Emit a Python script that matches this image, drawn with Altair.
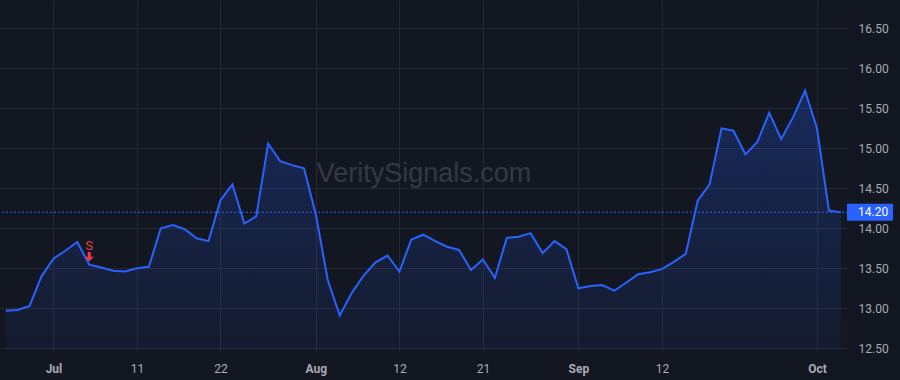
import altair as alt
import pandas as pd

# ---- data (trading-day index 0 = 2024-06-25 ... 70 = 2024-10-03) ----
values = [
    12.97, 12.98, 13.03, 13.40, 13.62, 13.72, 13.83, 13.545, 13.51, 13.47,
    13.46, 13.50, 13.52, 14.00, 14.04, 13.99, 13.875, 13.84, 14.35, 14.55,
    14.06, 14.15, 15.06, 14.84, 14.79, 14.75, 14.17, 13.35, 12.91, 13.19,
    13.41, 13.575, 13.66, 13.46, 13.86, 13.92, 13.84, 13.77, 13.73, 13.48,
    13.61, 13.38, 13.88, 13.895, 13.94, 13.69, 13.84, 13.74, 13.25, 13.28,
    13.29, 13.22, 13.32, 13.425, 13.45, 13.49, 13.58, 13.68, 14.345, 14.55,
    15.25, 15.22, 14.925, 15.08, 15.445, 15.115, 15.39, 15.72, 15.25, 14.22,
    14.20,
]
tick_index = [4, 11, 18, 26, 33, 40, 48, 55, 68]
tick_labels = ["Jul", "11", "22", "Aug", "12", "21", "Sep", "12", "Oct"]
month_ticks = [4, 26, 48, 68]
y_ticks = [12.5, 13.0, 13.5, 14.0, 14.5, 15.0, 15.5, 16.0, 16.5]
signal_index = [7]
signal_label = ["S"]
last_price = 14.20
watermark = "VeritySignals.com"

BG = "#131722"
GRID = "#252935"
LABEL = "#a8abb4"
BLUE = "#2962ff"
RED = "#f23645"
W, H = 848, 350
Y_MIN, Y_MAX = 12.479, 16.854

df = pd.DataFrame({"i": list(range(len(values))), "v": values})
sig = pd.DataFrame({
    "i": signal_index,
    "v": [values[k] for k in signal_index],
    "label": signal_label,
})
price = pd.DataFrame({"p": [last_price]})

x_scale = alt.Scale(domain=[-0.478, 70.6], nice=False, zero=False)
y_scale = alt.Scale(domain=[Y_MIN, Y_MAX], nice=False, zero=False)

label_expr = "{}[indexof({}, datum.value)]".format(
    "[" + ",".join("'" + t + "'" for t in tick_labels) + "]",
    "[" + ",".join(str(t) for t in tick_index) + "]",
)
month_test = "indexof([" + ",".join(str(t) for t in month_ticks) + "], datum.value) >= 0"

x_axis = alt.Axis(
    values=tick_index, labelExpr=label_expr, title=None, grid=True,
    gridColor=GRID, ticks=False, domain=False, labelColor=LABEL,
    labelFontSize=12, labelFont="Roboto", labelPadding=13,
    labelFontWeight={"condition": {"test": month_test, "value": "bold"}, "value": "normal"},
)
y_axis = alt.Axis(
    orient="right", values=y_ticks, format=".2f", title=None, grid=True,
    gridColor=GRID, ticks=False, domain=False, labelColor=LABEL,
    labelFontSize=12, labelFont="Roboto", labelPadding=10,
)

line = alt.Chart(df).mark_line(color=BLUE, strokeWidth=2).encode(
    x=alt.X("i:Q", scale=x_scale, axis=x_axis),
    y=alt.Y("v:Q", scale=y_scale, axis=y_axis),
)

wm = alt.Chart(pd.DataFrame({"t": [watermark]})).mark_text(
    font="Liberation Sans", fontSize=27, color="#353945", align="center",
    baseline="alphabetic",
).encode(x=alt.value(W / 2), y=alt.value(182), text="t:N")

area = alt.Chart(df).mark_area(
    color=alt.Gradient(
        gradient="linear",
        stops=[
            alt.GradientStop(color="rgba(41,98,255,0.26)", offset=0),
            alt.GradientStop(color="rgba(41,98,255,0.05)", offset=1),
        ],
        x1=1, x2=1, y1=0, y2=1,
    ),
).encode(
    x=alt.X("i:Q", scale=x_scale, title=None),
    y=alt.Y("v:Q", scale=y_scale, title=None),
    y2=alt.Y2(datum=Y_MIN),
)

rule = alt.Chart(price).mark_rule(color=BLUE, strokeDash=[2, 2], strokeWidth=1).encode(
    y=alt.Y("p:Q", scale=y_scale, title=None),
)

sig_text = alt.Chart(sig).mark_text(
    color=RED, fontSize=13, font="Roboto", baseline="alphabetic", dy=-15,
).encode(
    x=alt.X("i:Q", scale=x_scale, title=None),
    y=alt.Y("v:Q", scale=y_scale, title=None),
    text="label:N",
)

arrow = alt.Chart(sig).mark_point(
    shape="M-0.32,-1 L0.32,-1 L0.32,0 L1,0 L0,1 L-1,0 L-0.32,0 Z",
    filled=True, color=RED, opacity=1, size=90, strokeWidth=0, yOffset=-8,
).encode(
    x=alt.X("i:Q", scale=x_scale, title=None),
    y=alt.Y("v:Q", scale=y_scale, title=None),
)

box = alt.Chart(price).mark_rect(
    color=BLUE, yOffset=-8.5, y2Offset=8.5, cornerRadius=1,
).encode(
    x=alt.value(W - 1), x2=alt.value(W + 45),
    y=alt.Y("p:Q", scale=y_scale, title=None),
    y2="p:Q",
)

box_text = alt.Chart(price).mark_text(
    color="white", fontSize=12, font="Roboto", align="left", baseline="middle",
).encode(
    x=alt.value(W + 10),
    y=alt.Y("p:Q", scale=y_scale, title=None),
    text=alt.Text("p:Q", format=".2f"),
)

chart = alt.layer(line, wm, area, rule, sig_text, arrow, box, box_text).properties(
    width=W, height=H, background=BG,
    padding={"left": 0, "top": 0, "right": 52, "bottom": 30},
    autosize=alt.AutoSizeParams(type="none"),
).configure_view(stroke=None)

chart.save("out.html", embed_options={"renderer": "svg", "actions": False})
